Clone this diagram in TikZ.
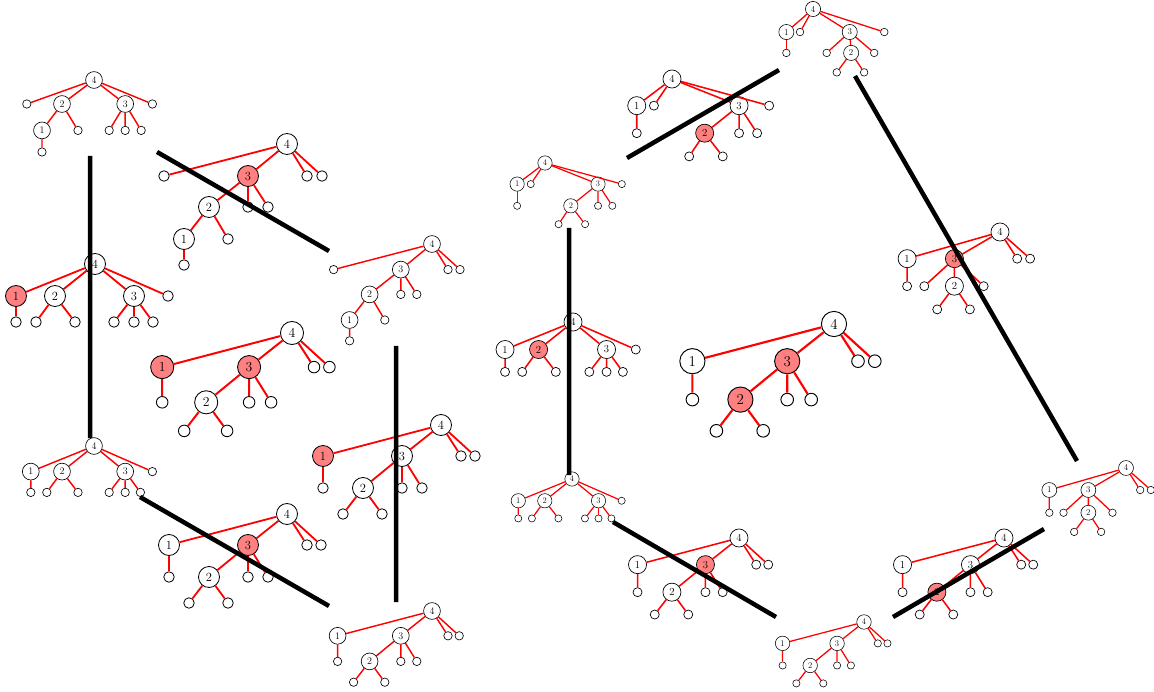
\documentclass[tikz,border=0pt]{standalone}
\usepackage{tikz}

% Baumformen: Name/Elter/x/y/Stil/Text
\newcommand{\formA}{2/4/-40/30/k2/2, a/4/-84/30/blatt/{}, 3/4/39/30/k3/3, b/4/73/30/blatt/{},
  1/2/-65/63/k1/1, c/2/-20/63/blatt/{}, d/3/19/63/blatt/{}, e/3/39/63/blatt/{},
  f/3/59/63/blatt/{}, g/1/-65/90/blatt/{}}
\newcommand{\formB}{1/4/-79/32/k1/1, 2/4/-40/32/k2/2, 3/4/39/32/k3/3, a/4/73/32/blatt/{},
  b/1/-79/58/blatt/{}, c/2/-59/58/blatt/{}, d/2/-20/58/blatt/{}, e/3/19/58/blatt/{},
  f/3/39/58/blatt/{}, g/3/58/58/blatt/{}}
\newcommand{\formD}{a/4/-123/32/blatt/{}, 3/4/-39/32/k3/3, b/4/20/32/blatt/{}, c/4/35/32/blatt/{},
  2/3/-78/63/k2/2, d/3/-39/63/blatt/{}, e/3/-19/63/blatt/{},
  1/2/-103/95/k1/1, f/2/-59/95/blatt/{}, g/1/-103/121/blatt/{}}
\newcommand{\formF}{1/4/-118/31/k1/1, 3/4/-39/31/k3/3, a/4/20/31/blatt/{}, b/4/34/31/blatt/{},
  c/1/-118/63/blatt/{}, 2/3/-78/63/k2/2, d/3/-39/63/blatt/{}, e/3/-19/63/blatt/{},
  f/2/-98/89/blatt/{}, g/2/-59/89/blatt/{}}
\newcommand{\formR}{1/4/-41/31/k1/1, a/4/-21/31/blatt/{}, 3/4/78/31/k3/3, b/4/113/31/blatt/{},
  c/1/-41/63/blatt/{}, 2/3/38/63/k2/2, d/3/78/63/blatt/{}, e/3/99/63/blatt/{},
  f/2/20/90/blatt/{}, g/2/59/90/blatt/{}}
\newcommand{\formS}{1/4/-37/32/k1/1, a/4/-18/32/blatt/{}, 3/4/51/32/k3/3, b/4/99/32/blatt/{},
  c/1/-37/61/blatt/{}, d/3/19/61/blatt/{}, 2/3/53/61/k2/2, e/3/85/61/blatt/{},
  f/2/33/88/blatt/{}, g/2/71/88/blatt/{}}
\newcommand{\formT}{1/4/-108/31/k1/1, 3/4/-53/31/k3/3, a/4/20/31/blatt/{}, b/4/35/31/blatt/{},
  c/1/-108/63/blatt/{}, d/3/-88/63/blatt/{}, 2/3/-53/63/k2/2, e/3/-19/63/blatt/{},
  f/2/-73/90/blatt/{}, g/2/-35/90/blatt/{}}

% Baum: Name, Wurzel, Massstab, Markierung, Form
\newcommand{\baum}[5]{%
  \begin{scope}[shift={#2}, scale=#3, transform shape, line width=0.8pt*#3, #4]
    \node[knoten] (#1-4) at (0,0) {4};
    \foreach \nm/\pa/\px/\py/\st/\lab in #5 {
      \node[\st] (#1-\nm) at (\px,\py) {\lab};
      \draw[kante, line width=1.8pt*#3] (#1-\pa) -- (#1-\nm);
    }
  \end{scope}}

\begin{document}
\begin{tikzpicture}[x=1pt, y=-1pt,
        knoten/.style={circle, draw, fill=white, minimum size=21pt, inner sep=0pt,
            font=\fontsize{12.5}{12.5}\selectfont},
        blatt/.style={circle, draw, fill=white, minimum size=10.5pt, inner sep=0pt},
        rot/.style={knoten, fill=red!50},
        k1/.style=knoten, k2/.style=knoten, k3/.style=knoten,
        kante/.style={red},
        balken/.style={line width=4.5pt}
        ]
            \useasboundingbox (0,0) rectangle (1154,692);

            % Baeume links
            \baum{LA}{(94,80)}{0.8}{}{\formA}
            \baum{LB}{(95,264)}{1}{k1/.style=rot}{\formB}
            \baum{LC}{(94,446)}{0.8}{}{\formB}
            \baum{LD}{(287,144)}{1}{k3/.style=rot}{\formD}
            \baum{LE}{(432,244)}{0.8}{}{\formD}
            \baum{LF}{(292,333)}{1.1}{k1/.style=rot, k3/.style=rot}{\formF}
            \baum{LG}{(441,425)}{1}{k1/.style=rot}{\formF}
            \baum{LH}{(287,514)}{1}{k3/.style=rot}{\formF}
            \baum{LI}{(432,611)}{0.8}{}{\formF}

            % Baeume rechts
            \baum{RA}{(813,9)}{0.72}{}{\formS}
            \baum{RB}{(672,79)}{0.86}{k2/.style=rot}{\formR}
            \baum{RC}{(545,163)}{0.68}{}{\formR}
            \baum{RD}{(573,322)}{0.86}{k2/.style=rot}{\formB}
            \baum{RE}{(834,324)}{1.2}{k2/.style=rot, k3/.style=rot}{\formF}
            \baum{RF}{(572,479)}{0.68}{}{\formB}
            \baum{RG}{(739,538)}{0.86}{k3/.style=rot}{\formF}
            \baum{RH}{(864,622)}{0.69}{}{\formF}
            \baum{RI}{(1004,538)}{0.86}{k2/.style=rot}{\formF}
            \baum{RJ}{(1126,468)}{0.71}{}{\formT}
            \baum{RK}{(1000,232)}{0.86}{k3/.style=rot}{\formT}

            % Balken
            \coordinate (b1o) at (90,156);   \coordinate (b1u) at (90,438);
            \coordinate (b2o) at (157,152);  \coordinate (b2u) at (329,251);
            \coordinate (b3o) at (396,346);  \coordinate (b3u) at (396,602);
            \coordinate (b4o) at (140,497);  \coordinate (b4u) at (329,606);
            \coordinate (b5o) at (569,228);  \coordinate (b5u) at (569,475);
            \coordinate (b6o) at (779,70);   \coordinate (b6u) at (627,158);
            \coordinate (b7o) at (855,76);   \coordinate (b7u) at (1077,461);
            \coordinate (b8o) at (613,522);  \coordinate (b8u) at (776,617);
            \coordinate (b9o) at (1044,529); \coordinate (b9u) at (893,617);

            \draw [balken]  (b1o) -- (b1u)  (b2o) -- (b2u)  (b3o) -- (b3u)
                            (b4o) -- (b4u)  (b5o) -- (b5u)  (b6o) -- (b6u)
                            (b7o) -- (b7u)  (b8o) -- (b8u)  (b9o) -- (b9u);
        \end{tikzpicture}
\end{document}
